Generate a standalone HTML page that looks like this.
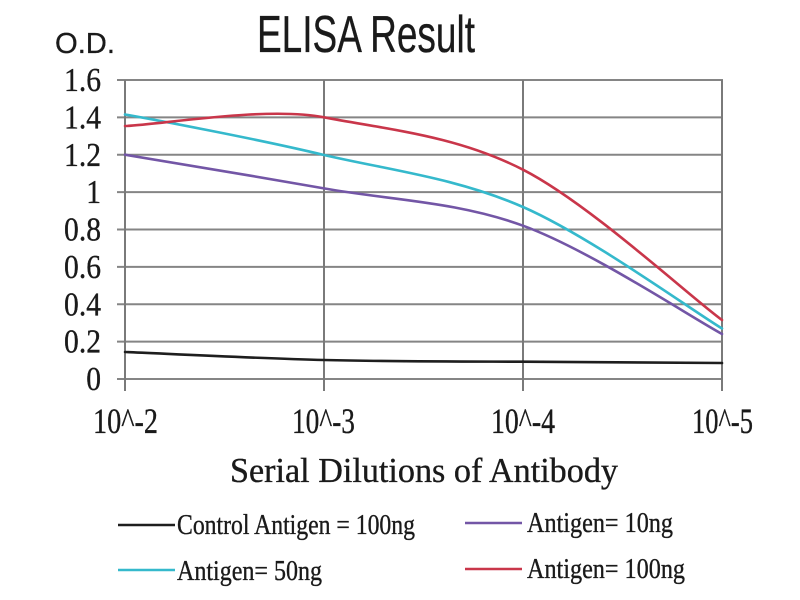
<!DOCTYPE html>
<html>
<head>
<meta charset="utf-8">
<style>
  html, body { margin:0; padding:0; background:#ffffff; }
  svg { display:block; }
  .serif { font-family: "Liberation Serif", "Times New Roman", serif; fill:#1a1a1a; stroke:#1a1a1a; stroke-width:0.35; }
  .sans { font-family: "Liberation Sans", Arial, sans-serif; fill:#1a1a1a; stroke:#1a1a1a; stroke-width:0.3; }
</style>
</head>
<body>
<svg width="800" height="600" viewBox="0 0 800 600" xmlns="http://www.w3.org/2000/svg">
  <rect x="0" y="0" width="800" height="600" fill="#ffffff"/>

  <!-- Title -->
  <text class="sans" x="257" y="52" font-size="52" textLength="218" lengthAdjust="spacingAndGlyphs">ELISA Result</text>
  <text class="sans" x="55" y="53" font-size="29" textLength="60" lengthAdjust="spacingAndGlyphs">O.D.</text>

  <!-- Horizontal gridlines -->
  <g stroke="#858585" stroke-width="2">
    <line x1="117" y1="80" x2="723" y2="80"/>
    <line x1="117" y1="117.4" x2="723" y2="117.4"/>
    <line x1="117" y1="154.8" x2="723" y2="154.8"/>
    <line x1="117" y1="192.1" x2="723" y2="192.1"/>
    <line x1="117" y1="229.5" x2="723" y2="229.5"/>
    <line x1="117" y1="266.9" x2="723" y2="266.9"/>
    <line x1="117" y1="304.3" x2="723" y2="304.3"/>
    <line x1="117" y1="341.6" x2="723" y2="341.6"/>
    <line x1="117" y1="379" x2="723" y2="379"/>
  </g>
  <!-- Vertical gridlines -->
  <g stroke="#7a7a7a" stroke-width="2">
    <line x1="125" y1="80" x2="125" y2="391"/>
    <line x1="324" y1="80" x2="324" y2="391"/>
    <line x1="523" y1="80" x2="523" y2="391"/>
    <line x1="722" y1="80" x2="722" y2="391"/>
  </g>

  <!-- Y tick labels -->
  <g class="serif" font-size="34" text-anchor="end">
    <text transform="translate(101,91) scale(0.87,1)">1.6</text>
    <text transform="translate(101,128.4) scale(0.87,1)">1.4</text>
    <text transform="translate(101,165.8) scale(0.87,1)">1.2</text>
    <text transform="translate(101,203.1) scale(0.87,1)">1</text>
    <text transform="translate(101,240.5) scale(0.87,1)">0.8</text>
    <text transform="translate(101,277.9) scale(0.87,1)">0.6</text>
    <text transform="translate(101,315.3) scale(0.87,1)">0.4</text>
    <text transform="translate(101,352.6) scale(0.87,1)">0.2</text>
    <text transform="translate(101,390) scale(0.87,1)">0</text>
  </g>

  <!-- X tick labels -->
  <g class="serif" font-size="36">
    <text x="93" y="433" textLength="65" lengthAdjust="spacingAndGlyphs">10^-2</text>
    <text x="292" y="433" textLength="63" lengthAdjust="spacingAndGlyphs">10^-3</text>
    <text x="491" y="433" textLength="64" lengthAdjust="spacingAndGlyphs">10^-4</text>
    <text x="692" y="433" textLength="61" lengthAdjust="spacingAndGlyphs">10^-5</text>
  </g>

  <!-- X axis title -->
  <text class="serif" x="230" y="482" font-size="35" textLength="388" lengthAdjust="spacingAndGlyphs">Serial Dilutions of Antibody</text>

  <!-- Series -->
  <g fill="none" stroke-width="2.6" stroke-linecap="round" stroke-linejoin="round">
    <path stroke="#1e1e1e" d="M125,352 C158.2,353.3 257.7,358.4 324,360 C390.3,361.6 456.7,361.5 523,361.7 C589.3,362.2 688.8,362.8 722,363"/>
    <path stroke="#7356a6" d="M125,154.7 C158.2,160.3 257.7,176.6 324,188.4 C390.3,200.2 456.7,201.4 523,225.7 C589.3,250 688.8,315.95 722,334"/>
    <path stroke="#35b9cc" d="M125,114.5 C158.2,120.45 257.7,139.1 324,155 C390.3,170.3 456.7,178 523,207 C589.3,236 688.8,308.25 722,328.5"/>
    <path stroke="#c9364a" d="M125,126 C158.2,125.1 265,106 324,117.3 C390,129.9 456.7,135.75 523,169.7 C589.3,203.65 688.8,295.8 722,320"/>
  </g>

  <!-- Legend -->
  <g stroke-width="2.6">
    <line x1="118" y1="525" x2="175" y2="525" stroke="#1e1e1e"/>
    <line x1="118" y1="570" x2="175" y2="570" stroke="#35b9cc"/>
    <line x1="465" y1="523" x2="522" y2="523" stroke="#7356a6"/>
    <line x1="465" y1="569" x2="522" y2="569" stroke="#c9364a"/>
  </g>
  <g class="serif" font-size="28">
    <text x="177" y="534" textLength="238" lengthAdjust="spacingAndGlyphs">Control Antigen = 100ng</text>
    <text x="177" y="580" textLength="145" lengthAdjust="spacingAndGlyphs">Antigen= 50ng</text>
    <text x="527" y="532" textLength="146" lengthAdjust="spacingAndGlyphs">Antigen= 10ng</text>
    <text x="527" y="578" textLength="158" lengthAdjust="spacingAndGlyphs">Antigen= 100ng</text>
  </g>
</svg>
</body>
</html>
